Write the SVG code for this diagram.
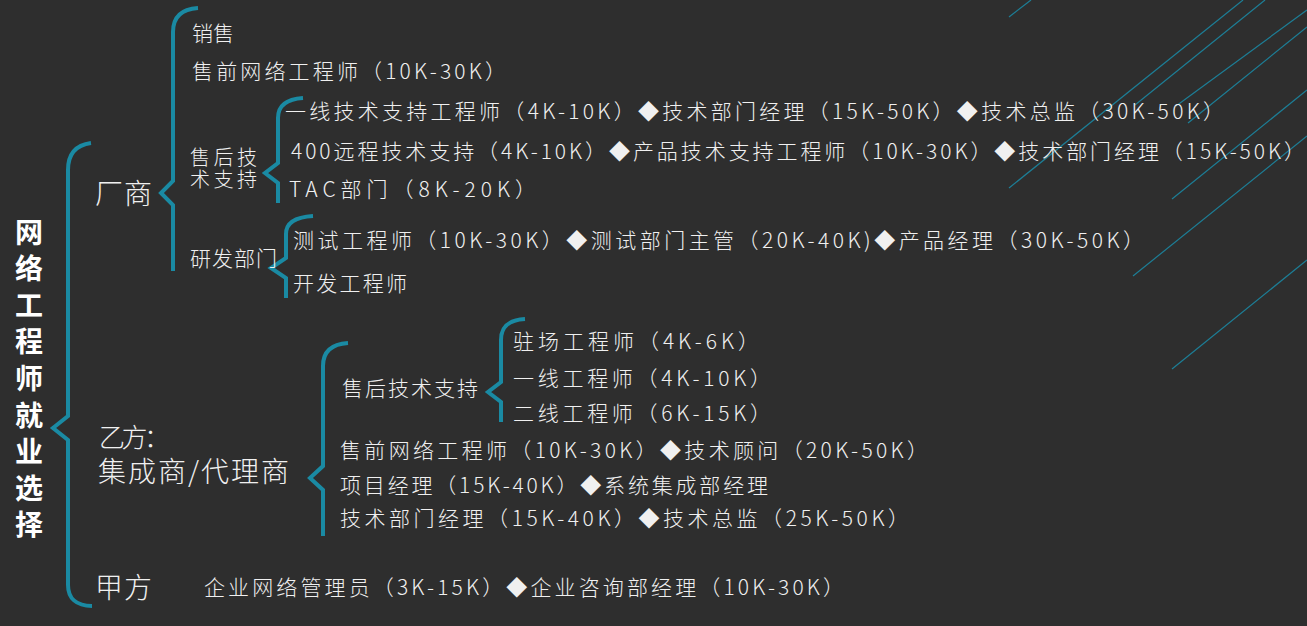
<svg xmlns="http://www.w3.org/2000/svg" width="1307" height="626" viewBox="0 0 1307 626">
<style>
.t{font-family:"Noto Sans CJK SC","Noto Sans",sans-serif;fill:#f0f0f0;font-size:21px;font-weight:300}
.big{font-size:28px}
.mid{font-size:20px}
.title{font-family:"Noto Sans CJK SC","Noto Sans",sans-serif;fill:#ffffff;font-size:28px;font-weight:bold}
.br{fill:none;stroke:#1a8aa3;stroke-width:4;stroke-linejoin:miter;stroke-linecap:butt}
.deco{stroke:#1d7e96;stroke-width:1.2}
</style>
<rect width="1307" height="626" fill="#2e2e2e"/>
<g id="decoration">
<line class="deco" x1="1009" y1="17" x2="1031" y2="0"/>
<line class="deco" x1="1009" y1="188" x2="1243" y2="0"/>
<line class="deco" x1="1135" y1="105" x2="1265" y2="0"/>
<line class="deco" x1="1176" y1="106" x2="1307" y2="10"/>
<line class="deco" x1="1188" y1="123" x2="1307" y2="27"/>
<line class="deco" x1="1172" y1="199" x2="1307" y2="90"/>
<line class="deco" x1="1133" y1="276" x2="1307" y2="136"/>
<line class="deco" x1="1172" y1="369" x2="1307" y2="260"/>
</g>
<g id="connectors">
<path class="br" d="M91,143 C76,145 68,154 68,170 L68,416 L53,428 L68,440 L68,585 C68,598 76,606 92,606"/>
<path class="br" d="M198,8 C182,9 173,16 173,32 L173,181 L161,193 L173,205 L173,271"/>
<path class="br" d="M303,98 C287,99 278,105 278,118 L278,163 L265,173 L278,183 L278,203"/>
<path class="br" d="M313,216 C296,217 286,222 286,234 L286,258 L271,268 L286,278 L286,298"/>
<path class="br" d="M348,343 C332,344 323,351 323,366 L323,466 L310,478 L323,490 L323,536"/>
<path class="br" d="M525,319 C509,320 501,326 501,340 L501,382 L488,392 L501,402 L501,422"/>
</g>
<g id="title">
<text class="title" x="29" y="218" style="writing-mode:vertical-rl" letter-spacing="8.6">网络工程师就业选择</text>
</g>
<g id="n-changshang"><text class="t big" x="95" y="204" textLength="57" lengthAdjust="spacing">厂商</text></g>
<g id="n-xiaoshou"><text class="t" x="192" y="41">销售</text></g>
<g id="n-shouqian"><text class="t" x="192" y="79" textLength="314" lengthAdjust="spacing">售前网络工程师（10K-30K）</text></g>
<g id="n-shouhou"><text class="t mid"><tspan x="190" y="165" textLength="67" lengthAdjust="spacing">售后技</tspan><tspan x="190" y="187" textLength="67" lengthAdjust="spacing">术支持</tspan></text></g>
<g id="n-shouhou-1"><text class="t" x="285" y="119" textLength="939" lengthAdjust="spacing">一线技术支持工程师（4K-10K）◆技术部门经理（15K-50K）◆技术总监（30K-50K）</text></g>
<g id="n-shouhou-2"><text class="t" x="291" y="159" textLength="1014" lengthAdjust="spacing">400远程技术支持（4K-10K）◆产品技术支持工程师（10K-30K）◆技术部门经理（15K-50K）</text></g>
<g id="n-shouhou-3"><text class="t" x="289" y="197" textLength="247" lengthAdjust="spacing">TAC部门（8K-20K）</text></g>
<g id="n-yanfa"><text class="t" x="190" y="266" textLength="87" lengthAdjust="spacing">研发部门</text></g>
<g id="n-yanfa-1"><text class="t" x="293" y="248" textLength="851" lengthAdjust="spacing">测试工程师（10K-30K）◆测试部门主管（20K-40K)◆产品经理（30K-50K）</text></g>
<g id="n-yanfa-2"><text class="t" x="293" y="291" textLength="114" lengthAdjust="spacing">开发工程师</text></g>
<g id="n-yifang"><text class="t big"><tspan x="99" y="447" textLength="71" lengthAdjust="spacing" font-size="26">乙方：</tspan><tspan x="98" y="482" textLength="191" lengthAdjust="spacing">集成商/代理商</tspan></text></g>
<g id="n-yf-shouhou"><text class="t" x="342" y="396" textLength="136" lengthAdjust="spacing">售后技术支持</text></g>
<g id="n-yf-sh-1"><text class="t" x="513" y="349" textLength="246" lengthAdjust="spacing">驻场工程师（4K-6K）</text></g>
<g id="n-yf-sh-2"><text class="t" x="513" y="386" textLength="258" lengthAdjust="spacing">一线工程师（4K-10K）</text></g>
<g id="n-yf-sh-3"><text class="t" x="513" y="421" textLength="258" lengthAdjust="spacing">二线工程师（6K-15K）</text></g>
<g id="n-yf-2"><text class="t" x="340" y="458" textLength="588" lengthAdjust="spacing">售前网络工程师（10K-30K）◆技术顾问（20K-50K）</text></g>
<g id="n-yf-3"><text class="t" x="340" y="493" textLength="428" lengthAdjust="spacing">项目经理（15K-40K）◆系统集成部经理</text></g>
<g id="n-yf-4"><text class="t" x="340" y="526" textLength="569" lengthAdjust="spacing">技术部门经理（15K-40K）◆技术总监（25K-50K）</text></g>
<g id="n-jiafang"><text class="t big" x="95" y="598" textLength="57" lengthAdjust="spacing">甲方</text></g>
<g id="n-jf-1"><text class="t" x="204" y="595" textLength="640" lengthAdjust="spacing">企业网络管理员（3K-15K）◆企业咨询部经理（10K-30K）</text></g>
</svg>
